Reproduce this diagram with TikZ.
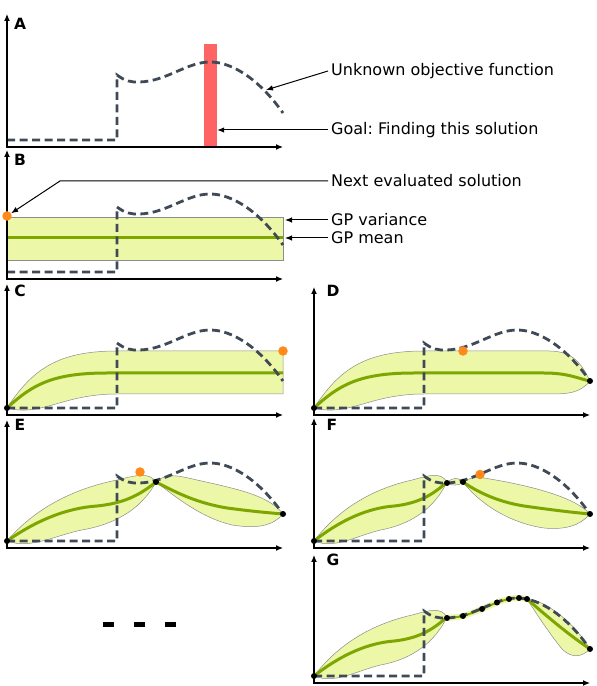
\documentclass[tikz,border=0pt]{standalone}
\usepackage{fontspec}
\setmainfont{DejaVu Sans}
\usetikzlibrary{arrows.meta,positioning}
\frenchspacing

\definecolor{funcgray}{HTML}{3F4A56}
\definecolor{bandfill}{HTML}{EDF7A8}
\definecolor{meangreen}{HTML}{7DA700}
\definecolor{nextorange}{HTML}{FF8A1A}
\definecolor{goalred}{HTML}{FF6464}

\newcommand{\objcurve}{(0,7) -- (110,7) -- (110,72) .. controls (118,66) and (124,64.5) .. (133,65) .. controls (160,66) and (180,85) .. (203,85) .. controls (225,85) and (252,68) .. (276,34)}
\newcommand{\leftlobe}{(0,7) .. controls (30,42) and (70,60) .. (110,68) .. controls (130,73) and (142,76) .. (149,66) .. controls (135,40) and (110,25) .. (80,19) .. controls (50,14) and (25,-2) .. (0,7) -- cycle}
\newcommand{\leftmean}{(0,7) .. controls (30,28) and (60,40) .. (90,42) .. controls (120,45) and (135,55) .. (149,66)}

\begin{document}
\begin{tikzpicture}[x=1pt,y=1pt,
  axes/.style={{Latex[length=7pt,width=6pt]}-{Latex[length=7pt,width=6pt]},line width=1.2pt},
  objfun/.style={draw=funcgray,line width=2.8pt,dash pattern=on 8pt off 4.5pt},
  band/.style={fill=bandfill,draw=black!45,line width=0.5pt},
  gpmean/.style={draw=meangreen,line width=3pt},
  nextpt/.style={circle,fill=nextorange,inner sep=0pt,minimum size=9.5pt},
  evalpt/.style={circle,fill=black,inner sep=0pt,minimum size=6pt},
  goalbar/.style={fill=goalred,inner sep=0pt,minimum width=13pt,minimum height=103pt},
  leader/.style={-{Latex[length=7pt,width=5.5pt]},line width=1pt},
  note/.style={anchor=west,inner sep=3pt,font=\fontsize{16}{19}\selectfont},
  panellbl/.style={font=\bfseries\fontsize{15.5}{18}\selectfont}]

  \useasboundingbox (0,0) rectangle (597,686);

  % A
  \begin{scope}[shift={(7,539)}]
    \node[goalbar] (goal) at (203.5,51.5) {};
    \draw[objfun] \objcurve;
    \draw[axes] (0,133) -- (0,0) -- (276,0);
    \node[panellbl] (lblA) at (13,123) {A};
    \coordinate (objtip) at (259,57);
  \end{scope}

  % B
  \begin{scope}[shift={(7,407)}]
    \draw[band] (0,19) rectangle (276,62);
    \draw[gpmean] (0,41) -- (276,41);
    \draw[objfun] \objcurve;
    \draw[axes] (0,129) -- (0,0) -- (276,0);
    \node[panellbl] (lblB) at (13,119) {B};
    \node[nextpt] (nextdot) at (0,63) {};
    \coordinate (nextbend) at (53,98);
    \coordinate (vartip) at (278,59);
    \coordinate (meantip) at (278,41);
  \end{scope}

  % C
  \begin{scope}[shift={(7,271)}]
    \draw[band] (0,7) .. controls (25,45) and (50,64) .. (110,64) -- (276,64) -- (276,21) -- (110,21) .. controls (55,21) and (35,-2) .. (0,7) -- cycle;
    \draw[gpmean] (0,7) .. controls (25,30) and (45,42) .. (100,42) -- (276,42);
    \draw[objfun] \objcurve;
    \node[evalpt] (c0) at (0,7) {};
    \node[nextpt] (cnext) at (276,64) {};
    \draw[axes] (0,131) -- (0,0) -- (276,0);
    \node[panellbl] (lblC) at (13,124) {C};
  \end{scope}

  % D
  \begin{scope}[shift={(314,271)}]
    \draw[band] (0,7) .. controls (25,45) and (50,64) .. (110,64) -- (235,64) .. controls (260,64) and (268,50) .. (276,34) .. controls (266,22) and (255,21) .. (235,21) -- (110,21) .. controls (55,21) and (35,-2) .. (0,7) -- cycle;
    \draw[gpmean] (0,7) .. controls (25,30) and (45,42) .. (100,42) -- (230,42) .. controls (255,42) and (265,36) .. (276,34);
    \draw[objfun] \objcurve;
    \node[evalpt] (d0) at (0,7) {};
    \node[evalpt] (d1) at (276,34) {};
    \node[nextpt] (dnext) at (149,64) {};
    \draw[axes] (0,128) -- (0,0) -- (276,0);
    \node[panellbl] (lblD) at (19,124) {D};
  \end{scope}

  % E
  \begin{scope}[shift={(7,138)}]
    \draw[band] \leftlobe;
    \draw[gpmean] \leftmean;
    \draw[band] (149,66) .. controls (160,76) and (172,72) .. (190,68) .. controls (235,58) and (262,52) .. (276,34) .. controls (266,22) and (250,19) .. (225,23) .. controls (195,30) and (170,50) .. (149,66) -- cycle;
    \draw[gpmean] (149,66) .. controls (170,55) and (190,45) .. (220,40) .. controls (250,36) and (265,35) .. (276,34);
    \draw[objfun] \objcurve;
    \node[evalpt] (e0) at (0,7) {};
    \node[evalpt] (e1) at (149,66) {};
    \node[evalpt] (e2) at (276,34) {};
    \node[nextpt] (enext) at (133,76) {};
    \draw[axes] (0,128) -- (0,0) -- (276,0);
    \node[panellbl] (lblE) at (13,123) {E};
  \end{scope}

  % F
  \begin{scope}[shift={(314,138)}]
    \begin{scope}[xscale=0.8926]
      \draw[band] \leftlobe;
      \draw[gpmean] \leftmean;
    \end{scope}
    \draw[band] (133,65) .. controls (138,71) and (145,71) .. (149,66) .. controls (145,62) and (138,62) .. (133,65) -- cycle;
    \draw[band] (149,66) .. controls (155,70) and (160,71) .. (170,70) .. controls (220,62) and (262,50) .. (276,34) .. controls (266,22) and (250,18) .. (230,20) .. controls (195,25) and (165,45) .. (149,66) -- cycle;
    \draw[gpmean] (149,66) .. controls (165,55) and (185,46) .. (210,42) .. controls (245,37) and (265,35) .. (276,34);
    \draw[objfun] \objcurve;
    \node[evalpt] (f0) at (0,7) {};
    \node[evalpt] (f1) at (133,65) {};
    \node[evalpt] (f2) at (149,66) {};
    \node[evalpt] (f3) at (276,34) {};
    \node[nextpt] (fnext) at (166,73.5) {};
    \draw[axes] (0,130) -- (0,0) -- (276,0);
    \node[panellbl] (lblF) at (18,123) {F};
  \end{scope}

  % G
  \begin{scope}[shift={(314,3)}]
    \begin{scope}[xscale=0.8926]
      \draw[band] \leftlobe;
      \draw[gpmean] \leftmean;
    \end{scope}
    \draw[line width=6pt,bandfill] plot[smooth] coordinates {(133,65) (149,67) (168,74) (183,80.5) (195,84) (205,85) (213,84)};
    \draw[gpmean,line width=2pt] plot[smooth] coordinates {(133,65) (149,67) (168,74) (183,80.5) (195,84) (205,85) (213,84)};
    \draw[band] (213,84) .. controls (225,84) and (255,68) .. (276,34) .. controls (268,26) and (258,24) .. (248,34) .. controls (235,50) and (222,70) .. (213,84) -- cycle;
    \draw[gpmean] (213,84) .. controls (235,65) and (255,48) .. (276,34);
    \draw[objfun] \objcurve;
    \foreach \px/\py [count=\i] in {0/7,133/65,149/67,168/74,183/80.5,195/84,205/85,213/84,276/34}
      \node[evalpt] (g\i) at (\px,\py) {};
    \draw[axes] (0,128) -- (0,0) -- (276,0);
    \node[panellbl] (lblG) at (19,123) {G};
  \end{scope}

  \foreach \x in {103,134,165}
    \fill (\x,59) rectangle ++(10.5,5);

  \node[note] (lblobj)  at (328,615) {Unknown objective function};
  \node[note] (lblgoal) at (328,556) {Goal: Finding this solution};
  \node[note] (lblnext) at (328,505) {Next evaluated solution};
  \node[note] (lblvar)  at (328,466) {GP variance};
  \node[note] (lblmean) at (328,448) {GP mean};

  \draw[leader] (lblobj.west) -- (objtip);
  \draw[leader] (lblgoal.west) -- (lblgoal.west -| goal.east);
  \draw[leader] (lblnext.west) -- (nextbend) -- (nextdot);
  \draw[leader] (lblvar.west) -- (vartip);
  \draw[leader] (lblmean.west) -- (meantip);
\end{tikzpicture}
\end{document}
